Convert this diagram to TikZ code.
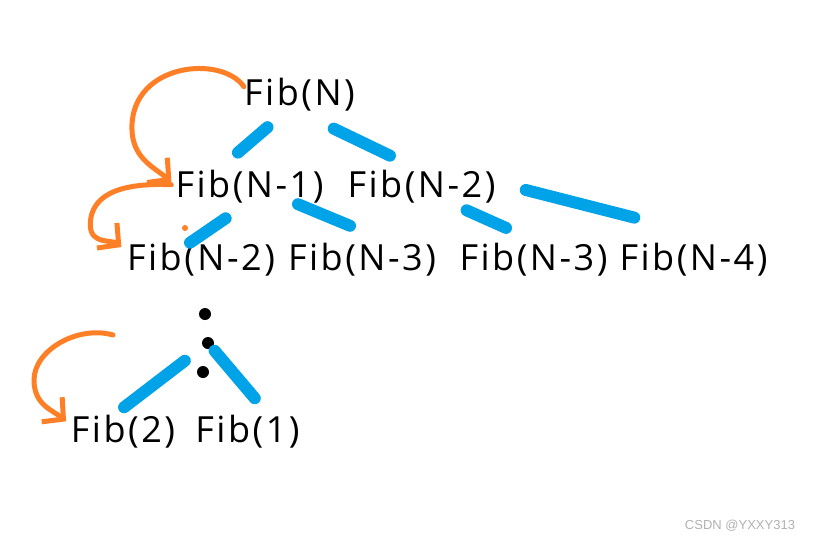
\documentclass[tikz,border=0pt]{standalone}
\usepackage{fontspec}
\setmainfont{Open Sans}[LetterSpace=7]
\newfontfamily\wmfont{Liberation Sans}
\usepackage{xcolor}
\usetikzlibrary{arrows.meta}
\definecolor{paintblue}{HTML}{00A2E8}
\definecolor{paintorange}{HTML}{FF7F27}

\begin{document}
\begin{tikzpicture}[
        x=1pt, y=-1pt,
        font=\fontsize{36}{40}\selectfont,
        lbl/.style={inner sep=0pt, anchor=base, text height=26pt, text depth=7pt},
        dot/.style={circle, fill=black, inner sep=0pt, minimum size=12pt},
        edge/.style={paintblue, line width=12pt, line cap=round},
        call/.style={paintorange, line width=5pt, line cap=round, line join=round, -{Straight Barb[length=15pt, width=32pt]}},
        wmark/.style={font=\wmfont\fontsize{13}{13}\selectfont, text=black!30, anchor=base, inner sep=0pt}
    ]
        \path[use as bounding box, fill=white] (0,0) rectangle (815,542);

        \node[lbl] (n) at (299.5,105) {Fib(N)};
        \node[lbl] (n1) at (249.5,197) {Fib(N-1)};
        \node[lbl] (n2) at (421.5,197) {Fib(N-2)};
        \node[lbl] (l2) at (201,270) {Fib(N-2)};
        \node[lbl] (l3) at (362,270) {Fib(N-3)};
        \node[lbl] (r3) at (533.5,270) {Fib(N-3)};
        \node[lbl] (r4) at (693.5,270) {Fib(N-4)};
        \node[dot] (d1) at (205,314) {};
        \node[dot] (d2) at (208,343) {};
        \node[dot] (d3) at (203,372) {};
        \node[lbl] (f2) at (123,442) {Fib(2)};
        \node[lbl] (f1) at (247.5,442) {Fib(1)};
        \coordinate (c3) at (113,335);

        \draw[edge, shorten <=23pt, shorten >=28pt] (n.229) -- (n1.153);
        \draw[edge, shorten <=38pt, shorten >=35pt] (n.south) -- (n2.north);
        \draw[edge, shorten <=25pt, shorten >=2pt] (n1.259) -- (l2.127);
        \draw[edge, shorten >=47pt] (n1.341) -- (l3.28);
        \draw[edge, shorten <=15pt, shorten >=39pt] (n2.332) -- (r3.64);
        \draw[edge, shorten <=31pt, shorten >=106pt] (n2.4) -- (r4.21);
        \draw[edge, shorten <=23pt, shorten >=14pt] (d2) -- (f2.121);
        \draw[edge, shorten <=4pt, shorten >=23pt] (d2) -- (f1.37);

        \draw[call, shorten >=5pt] (n.171) .. controls +(-22,-32) and +(0,-65) .. ++(-112,41)
            .. controls +(0,30) and +(-22,-18) .. (n1.178);
        \draw[call, shorten <=4pt, shorten >=7pt] (n1.178) .. controls +(-45,-2) and +(0,-35) .. ++(-85,40)
            .. controls +(0,20) and +(-15,-12) .. (l2.173);
        \draw[call, shorten >=6pt] (c3) .. controls +(-35,-10) and +(0,-30) .. ++(-79,45)
            .. controls +(0,25) and +(-18,-15) .. (f2.172);
        \fill[paintorange] (185,228) circle (3);

        \node[wmark] (wm) at (740,529) {CSDN @YXXY313};
    \end{tikzpicture}
\end{document}
